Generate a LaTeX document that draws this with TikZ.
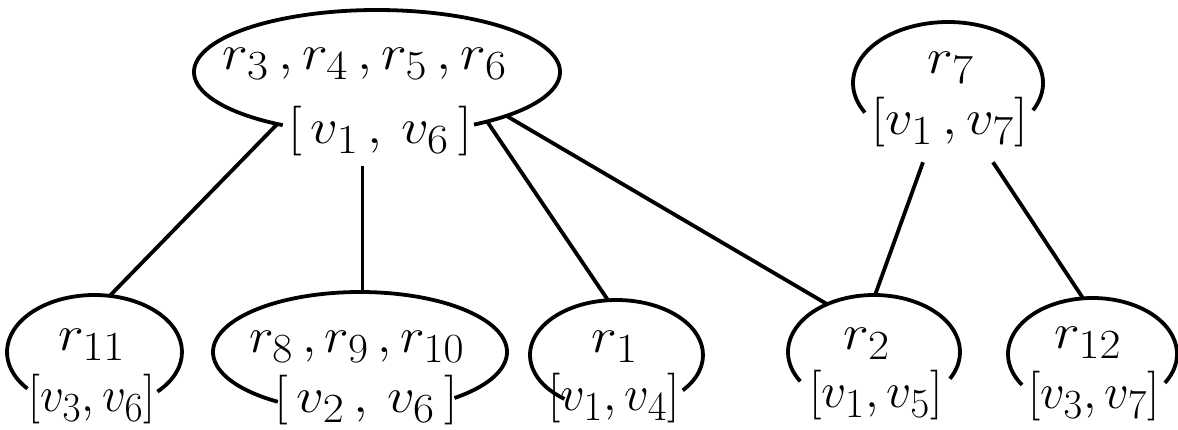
\documentclass[tikz,border=0pt]{standalone}
\usepackage{graphicx}
\usetikzlibrary{shapes.geometric,calc}
\newcommand\hwtxt[2][1.1]{\scalebox{#1}[1]{$#2$}}
\begin{document}
\begin{tikzpicture}[x=0.5pt,y=0.5pt,
  rim/.style={line width=1.9pt},
  lnk/.style={line width=1.9pt},
  lbl/.style={inner sep=0pt, font=\fontsize{24.88}{30}\selectfont},
  hold/.style={ellipse, draw=none, inner sep=0pt}]
\useasboundingbox (0,0) rectangle (1178,-429);
% holders
\node[hold, minimum width=183pt, minimum height=62pt] (A) at (377,-72) {};
\node[hold, minimum width=95pt, minimum height=61pt] (B) at (948,-83) {};
\node[hold, minimum width=87.5pt, minimum height=57pt] (C) at (94.5,-352) {};
\node[hold, minimum width=147pt, minimum height=60pt] (D) at (360,-352) {};
\node[hold, minimum width=86.5pt, minimum height=55pt] (E) at (616.5,-355) {};
\node[hold, minimum width=86pt, minimum height=57pt] (F) at (874,-352) {};
\node[hold, minimum width=84.5pt, minimum height=56pt] (G) at (1092.5,-354) {};
% open ellipses
\draw[rim] ($(A.center)+(-58:183 and 62)$) arc[start angle=-58, end angle=239, x radius=183, y radius=62];
\draw[rim] ($(B.center)+(-26.5:95 and 61)$) arc[start angle=-26.5, end angle=209, x radius=95, y radius=61];
\draw[rim] ($(C.center)+(-44:87.5 and 57)$) arc[start angle=-44, end angle=220, x radius=87.5, y radius=57];
\draw[rim] ($(D.center)+(-50:147 and 60)$) arc[start angle=-50, end angle=236, x radius=147, y radius=60];
\draw[rim] ($(E.center)+(-40:86.5 and 55)$) arc[start angle=-40, end angle=233, x radius=86.5, y radius=55];
\draw[rim] ($(F.center)+(-28:86 and 57)$) arc[start angle=-28, end angle=211, x radius=86, y radius=57];
\draw[rim] ($(G.center)+(-31:84.5 and 56)$) arc[start angle=-31, end angle=213.5, x radius=84.5, y radius=56];
% texts
\node[lbl] (Ar) at (365,-64) {\hwtxt{r_3\,, r_4\,, r_5\,, r_6}};
\node[lbl] (Av) at (380,-131) {\hwtxt{[\,v_1\,, \,v_6\,]}};
\node[lbl] (Br) at (951,-68) {\hwtxt{r_7}};
\node[lbl] (Bv) at (950,-122) {\hwtxt{[v_1\,, v_7]}};
\node[lbl] (Cr) at (92,-345) {\hwtxt{r_{11}}};
\node[lbl] (Cv) at (92,-399) {\hwtxt[0.95]{[v_3, v_6]}};
\node[lbl] (Dr) at (357,-347) {\hwtxt[1.05]{r_8\,, r_9\,, r_{10}}};
\node[lbl] (Dv) at (366,-400) {\hwtxt{[\,v_2\,, \,v_6\,]}};
\node[lbl] (Er) at (615,-347) {\hwtxt{r_1}};
\node[lbl] (Ev) at (614,-398) {\hwtxt[0.98]{[v_1, v_4]}};
\node[lbl] (Fr) at (867,-344) {\hwtxt{r_2}};
\node[lbl] (Fv) at (876,-395) {\hwtxt[1.0]{[v_1, v_5]}};
\node[lbl] (Gr) at (1088,-343) {\hwtxt{r_{12}}};
\node[lbl] (Gv) at (1094,-396) {\hwtxt[0.98]{[v_3, v_7]}};
% connectors
\coordinate (Dtop) at ($(D.center)+(89:147 and 60)$);
\draw[lnk] ($(A.center)+(237:183 and 62)$) -- ($(C.center)+(80:87.5 and 57)$);
\draw[lnk] ($(Dtop |- Av.south)+(0,-10)$) -- (Dtop);
\draw[lnk] ($(A.center)+(-53:183 and 62)$) -- ($(E.center)+(95.6:86.5 and 55)$);
\draw[lnk] ($(A.center)+(-45:183 and 62)$) -- ($(F.center)+(123:86 and 57)$);
\draw[lnk] ($(Bv.south)+(-27,-15)$) -- ($(F.center)+(89.3:86 and 57)$);
\draw[lnk] ($(Bv.south)+(43,-15)$) -- ($(G.center)+(96.4:84.5 and 56)$);
\end{tikzpicture}
\end{document}
